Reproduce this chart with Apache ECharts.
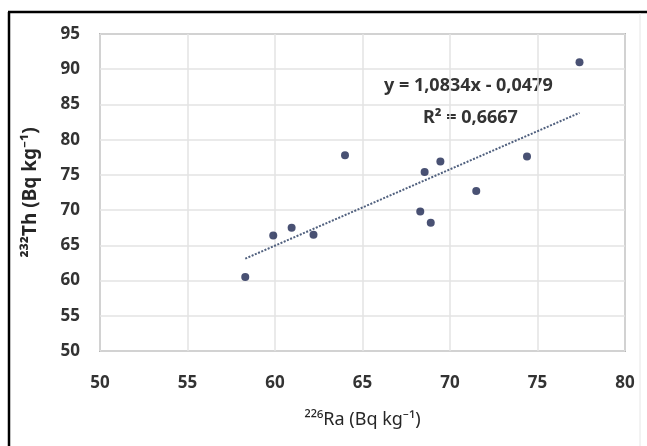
<!DOCTYPE html>
<html>
<head>
<meta charset="utf-8">
<title>Th vs Ra</title>
<script src="https://cdn.jsdelivr.net/npm/echarts@6/dist/echarts.min.js"></script>
<style>
  html, body { margin: 0; padding: 0; background: #fff; }
  #main { width: 647px; height: 446px; }
</style>
</head>
<body>
<div id="main"></div>
<script>
// 226Ra values (x) and 232Th values (y)
var raValues = [58.3, 59.9, 60.95, 62.2, 64.0, 68.3, 68.55, 68.9, 69.45, 71.5, 74.4, 77.4]
var thValues = [60.5, 66.4, 67.5, 66.5, 77.8, 69.8, 75.4, 68.2, 76.9, 72.7, 77.6, 91.0]

// linear trend as printed on the chart
var slope = 1.0834
var intercept = -0.0479
var trendX = [58.3, 77.4]

var xTicks = [50, 55, 60, 65, 70, 75, 80]
var yTicks = [50, 55, 60, 65, 70, 75, 80, 85, 90, 95]

var fontFam = '"Noto Sans", "Liberation Sans", sans-serif'

var chart = echarts.init(document.getElementById('main'))

var points = raValues.map(function (x, i) { return [x, thValues[i]] })
var trend = trendX.map(function (x) { return [x, slope * x + intercept] })

var option = {
  animation: false,
  grid: {
    left: 100,
    right: 22,
    top: 34,
    bottom: 95,
    show: true,
    borderColor: '#7f7f7f',
    borderWidth: 1.5,
    backgroundColor: 'transparent'
  },
  xAxis: {
    type: 'value',
    min: xTicks[0],
    max: xTicks[xTicks.length - 1],
    interval: 5,
    name: '²²⁶Ra (Bq kg⁻¹)',
    nameLocation: 'middle',
    nameGap: 60,
    nameTextStyle: {
      fontFamily: fontFam,
      fontSize: 18,
      color: '#262626'
    },
    axisLine: { show: false },
    axisTick: { show: false },
    axisLabel: {
      margin: 24,
      fontFamily: fontFam,
      fontSize: 17,
      fontWeight: 'bold',
      color: '#333'
    },
    splitLine: { lineStyle: { color: '#e3e3e3', width: 1.5 } }
  },
  yAxis: {
    type: 'value',
    min: yTicks[0],
    max: yTicks[yTicks.length - 1],
    interval: 5,
    name: '²³²Th (Bq kg⁻¹)',
    nameLocation: 'middle',
    nameGap: 60,
    nameTextStyle: {
      fontFamily: fontFam,
      fontSize: 19,
      fontWeight: 'bold',
      color: '#262626'
    },
    axisLine: { show: false },
    axisTick: { show: false },
    axisLabel: {
      margin: 20,
      fontFamily: fontFam,
      fontSize: 17,
      fontWeight: 'bold',
      color: '#333'
    },
    splitLine: { lineStyle: { color: '#e3e3e3', width: 1.5 } }
  },
  graphic: [
    // outer frame (left and top black edges, faint right edge)
    { type: 'line', shape: { x1: 9, y1: 12, x2: 9, y2: 446 }, style: { stroke: '#000', lineWidth: 2.5 } },
    { type: 'line', shape: { x1: 8, y1: 12, x2: 647, y2: 12 }, style: { stroke: '#000', lineWidth: 2.5 } },
    { type: 'line', shape: { x1: 640, y1: 13, x2: 640, y2: 446 }, style: { stroke: '#e6e6e6', lineWidth: 1 } },
    {
      type: 'text',
      left: 384,
      top: 77,
      style: {
        text: 'y = 1,0834x - 0,0479',
        fontFamily: fontFam,
        fontSize: 18,
        fontWeight: 'bold',
        fill: '#333'
      }
    },
    {
      type: 'text',
      left: 423,
      top: 109,
      style: {
        text: 'R² = 0,6667',
        fontFamily: fontFam,
        fontSize: 18,
        fontWeight: 'bold',
        fill: '#333'
      }
    }
  ],
  series: [
    {
      name: 'trend',
      type: 'line',
      data: trend,
      symbol: 'none',
      silent: true,
      lineStyle: { color: '#50607e', width: 2, type: [2, 1.5] }
    },
    {
      name: 'Th vs Ra',
      type: 'scatter',
      data: points,
      symbol: 'circle',
      symbolSize: 8,
      itemStyle: { color: '#1b2550' }
    }
  ]
}

chart.setOption(option)
</script>
</body>
</html>
